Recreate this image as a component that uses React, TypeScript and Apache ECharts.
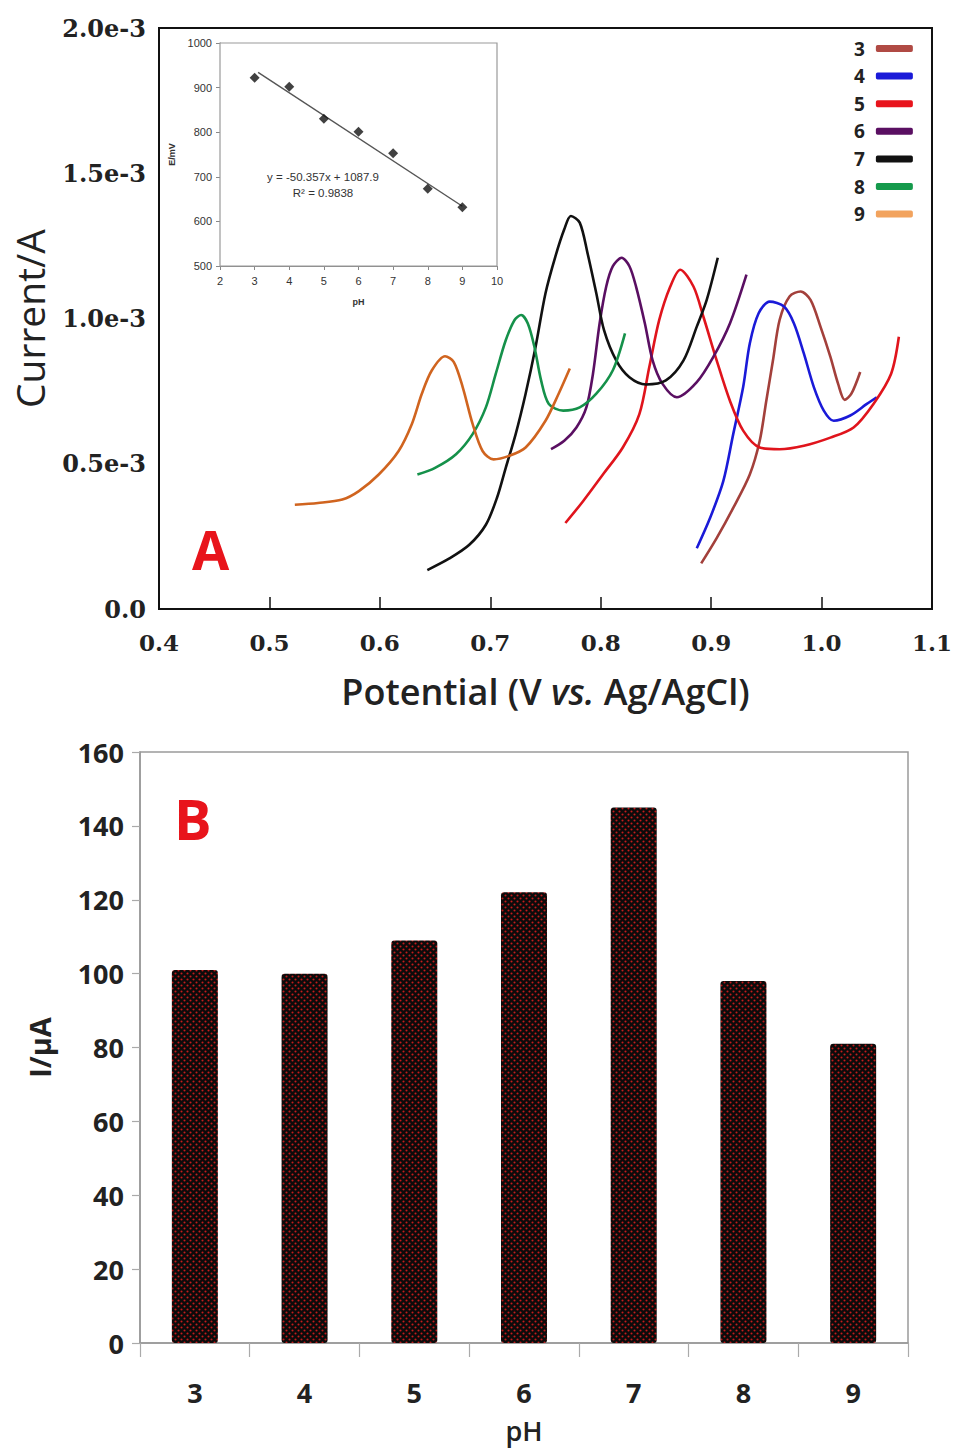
import React, { useEffect, useRef } from "react";
import * as echarts from "echarts";

// ---------- Panel A data: potential (V) vs current (units of 1e-3 A) ----------
const curveNames = ["3", "4", "5", "6", "7", "8", "9"];
const curve3 = [[0.891,0.157],[0.905,0.244],[0.920,0.348],[0.935,0.463],[0.944,0.579],[0.950,0.718],[0.956,0.856],[0.962,0.995],[0.971,1.076],[0.981,1.093],[0.990,1.064],[0.999,0.972],[1.008,0.868],[1.015,0.775],[1.021,0.720],[1.027,0.741],[1.035,0.816]];
const curve4 = [[0.887,0.209],[0.899,0.313],[0.911,0.440],[0.920,0.602],[0.929,0.764],[0.935,0.914],[0.943,1.018],[0.953,1.058],[0.966,1.041],[0.975,0.983],[0.984,0.879],[0.993,0.764],[1.002,0.683],[1.011,0.648],[1.026,0.666],[1.041,0.706],[1.050,0.729]];
const curve5 = [[0.768,0.296],[0.784,0.371],[0.802,0.463],[0.820,0.556],[0.835,0.671],[0.844,0.833],[0.853,0.995],[0.863,1.110],[0.872,1.168],[0.884,1.110],[0.893,1.006],[0.905,0.856],[0.917,0.717],[0.929,0.614],[0.944,0.556],[0.962,0.550],[0.984,0.562],[1.008,0.590],[1.029,0.625],[1.047,0.706],[1.063,0.810],[1.070,0.937]];
const curve6 = [[0.755,0.550],[0.767,0.579],[0.778,0.625],[0.787,0.694],[0.793,0.810],[0.799,0.983],[0.805,1.110],[0.811,1.180],[0.819,1.209],[0.826,1.180],[0.832,1.110],[0.840,0.983],[0.847,0.856],[0.856,0.775],[0.869,0.729],[0.887,0.781],[0.902,0.868],[0.917,0.983],[0.932,1.151]];
const curve7 = [[0.643,0.134],[0.663,0.174],[0.681,0.221],[0.696,0.290],[0.706,0.382],[0.714,0.486],[0.723,0.602],[0.732,0.741],[0.741,0.902],[0.750,1.087],[0.759,1.214],[0.767,1.307],[0.773,1.353],[0.781,1.330],[0.788,1.226],[0.796,1.087],[0.803,0.960],[0.814,0.856],[0.826,0.798],[0.841,0.773],[0.859,0.787],[0.875,0.856],[0.887,0.972],[0.896,1.064],[0.906,1.209]];
const curve8 = [[0.634,0.463],[0.650,0.486],[0.669,0.533],[0.684,0.602],[0.696,0.694],[0.705,0.810],[0.714,0.925],[0.722,0.995],[0.728,1.012],[0.734,0.983],[0.740,0.902],[0.746,0.787],[0.753,0.706],[0.766,0.683],[0.781,0.694],[0.796,0.741],[0.811,0.822],[0.822,0.949]];
const curve9 = [[0.523,0.359],[0.544,0.365],[0.566,0.377],[0.581,0.406],[0.599,0.463],[0.617,0.544],[0.629,0.637],[0.638,0.741],[0.647,0.821],[0.659,0.870],[0.667,0.850],[0.675,0.764],[0.684,0.637],[0.693,0.544],[0.703,0.515],[0.717,0.527],[0.732,0.556],[0.750,0.648],[0.762,0.742],[0.772,0.828]];
const curves = [curve3, curve4, curve5, curve6, curve7, curve8, curve9];
const curveColors = ["#a3403b", "#1a1ad8", "#e0141c", "#5a0f62", "#111111", "#15914a", "#d0641f"];
const legendColors = ["#b04a44", "#1a1ad8", "#e8141c", "#5a0f62", "#111111", "#159a4c", "#f2a35e"];
const potentialTicks = [0.4, 1.1];

// ---------- Inset data: E/mV vs pH ----------
const insetPH = [3, 4, 5, 6, 7, 8, 9];
const insetE = [922, 902, 830, 801, 753, 673, 632];
const trendX = [3.1, 9.0];
const trendY = [934, 634];
const trendText = ["y = -50.357x + 1087.9", "R² = 0.9838"];

// ---------- Panel B data: peak current (µA) vs pH ----------
const barCategories = ["3", "4", "5", "6", "7", "8", "9"];
const barValues = [101, 100, 109, 122, 145, 98, 81];

export default function App() {
  const ref = useRef<HTMLDivElement>(null);
  useEffect(() => {
    if (!ref.current) return;
    const chart = echarts.init(ref.current, null, { renderer: "svg" });

    const tile = document.createElement("canvas");
    tile.width = 6;
    tile.height = 6;
    const ctx = tile.getContext("2d");
    if (ctx) {
      ctx.fillStyle = "#0b0b0b";
      ctx.fillRect(0, 0, 6, 6);
      ctx.fillStyle = "#c41c1c";
      ctx.beginPath(); ctx.arc(1.5, 1.5, 1.05, 0, Math.PI * 2); ctx.fill();
      ctx.beginPath(); ctx.arc(4.5, 4.5, 1.05, 0, Math.PI * 2); ctx.fill();
    }

    const sans = "Open Sans";
    const serif = "DejaVu Serif";
    const small = "Liberation Sans";

    const lineSeries = curves.map((c, i) => ({
      name: curveNames[i],
      type: "line",
      xAxisIndex: 0,
      yAxisIndex: 0,
      data: c,
      smooth: 0.3,
      showSymbol: false,
      symbol: "none",
      itemStyle: { color: legendColors[i] },
      lineStyle: { color: curveColors[i], width: 2.6 },
      z: 3,
    }));

    const option: any = {
      animation: false,
      backgroundColor: "#ffffff",
      grid: [
        { left: 159, top: 28, width: 773, height: 581, show: true, borderColor: "#111", borderWidth: 2, containLabel: false },
        { left: 140, top: 752, width: 768, height: 591, show: true, borderColor: "#9a9a9a", borderWidth: 1.5, containLabel: false },
        { left: 220, top: 43, width: 277, height: 223, show: true, borderColor: "#9a9a9a", borderWidth: 1.2, backgroundColor: "#fff", containLabel: false, z: 5 },
      ],
      xAxis: [
        {
          gridIndex: 0, type: "value", min: potentialTicks[0], max: potentialTicks[1], interval: 0.1,
          axisLine: { show: true, lineStyle: { color: "#111", width: 2 } },
          axisTick: { show: true, inside: true, length: 12, lineStyle: { color: "#111", width: 1.5 } },
          splitLine: { show: false },
          axisLabel: { margin: 22, fontFamily: serif, fontWeight: "bold", fontSize: 23, color: "#222", formatter: (v: number) => v.toFixed(1) },
          name: "{a|Potential (V }{i|vs.}{a| Ag/AgCl)}",
          nameLocation: "middle", nameGap: 64,
          nameTextStyle: {
            rich: {
              a: { fontFamily: sans, fontSize: 36, fontWeight: 600, color: "#222" },
              i: { fontFamily: sans, fontSize: 36, fontWeight: 600, fontStyle: "italic", color: "#222" },
            },
          },
        },
        {
          gridIndex: 1, type: "category", data: barCategories,
          axisLine: { show: true, lineStyle: { color: "#999", width: 1.5 } },
          axisTick: { show: true, length: 14, lineStyle: { color: "#aaa", width: 1.2 } },
          axisLabel: { margin: 36, fontFamily: sans, fontWeight: "bold", fontSize: 27, color: "#222" },
          name: "pH", nameLocation: "middle", nameGap: 74,
          nameTextStyle: { fontFamily: sans, fontWeight: 600, fontSize: 27, color: "#222" },
        },
        {
          gridIndex: 2, type: "value", min: 2, max: 10, interval: 1,
          axisLine: { show: true, lineStyle: { color: "#888", width: 1 } },
          axisTick: { show: true, length: 4, lineStyle: { color: "#888" } },
          splitLine: { show: false },
          axisLabel: { margin: 9, fontFamily: small, fontSize: 11, color: "#333", formatter: (v: number) => String(v) },
          name: "pH", nameLocation: "middle", nameGap: 31,
          nameTextStyle: { fontFamily: small, fontSize: 9, fontWeight: "bold", color: "#333" },
        },
      ],
      yAxis: [
        {
          gridIndex: 0, type: "value", min: 0, max: 2, interval: 0.5,
          axisLine: { show: true, lineStyle: { color: "#111", width: 2 } },
          axisTick: { show: false },
          splitLine: { show: false },
          axisLabel: {
            margin: 13, fontFamily: serif, fontWeight: "bold", fontSize: 24, color: "#222",
            formatter: (v: number) => (v === 0 ? "0.0" : v.toFixed(1) + "e-3"),
          },
          name: "Current/A", nameLocation: "middle", nameGap: 110, nameRotate: 90,
          nameTextStyle: { fontFamily: sans, fontSize: 39, color: "#222" },
        },
        {
          gridIndex: 1, type: "value", min: 0, max: 160, interval: 20,
          axisLine: { show: true, lineStyle: { color: "#999", width: 1.5 } },
          axisTick: { show: true, length: 8, lineStyle: { color: "#aaa", width: 1.2 } },
          splitLine: { show: false },
          axisLabel: { margin: 16, fontFamily: sans, fontWeight: "bold", fontSize: 27, color: "#222" },
          name: "I/μA", nameLocation: "middle", nameGap: 86, nameRotate: 90,
          nameTextStyle: { fontFamily: sans, fontWeight: "bold", fontSize: 29, color: "#222" },
        },
        {
          gridIndex: 2, type: "value", min: 500, max: 1000, interval: 100,
          axisLine: { show: true, lineStyle: { color: "#888", width: 1 } },
          axisTick: { show: true, length: 4, lineStyle: { color: "#888" } },
          splitLine: { show: false },
          axisLabel: { margin: 8, fontFamily: small, fontSize: 11, color: "#333", formatter: (v: number) => String(v) },
          name: "E/mV", nameLocation: "middle", nameGap: 44, nameRotate: 90,
          nameTextStyle: { fontFamily: small, fontSize: 9, fontWeight: "bold", color: "#333" },
        },
      ],
      legend: {
        data: curveNames.map((n, i) => ({ name: n, itemStyle: { color: legendColors[i] } })),
        orient: "vertical",
        left: 849,
        top: 34,
        align: "right",
        icon: "roundRect",
        itemWidth: 37,
        itemHeight: 7,
        itemGap: 8.6,
        textStyle: { fontFamily: sans, fontWeight: "bold", fontSize: 19, color: "#222", lineHeight: 18, padding: [0, 6, 0, 0] },
      },
      graphic: [
        { type: "text", left: 192, top: 522, style: { text: "A", fontFamily: sans, fontWeight: "bold", fontSize: 54, fill: "#e8141b" } },
        { type: "text", left: 174, top: 790, style: { text: "B", fontFamily: sans, fontWeight: "bold", fontSize: 56, fill: "#e8141b" } },
        { type: "text", x: 323, y: 177, style: { text: trendText[0], fontFamily: small, fontSize: 11.5, fill: "#333", align: "center", verticalAlign: "middle" }, z: 10 },
        { type: "text", x: 323, y: 193, style: { text: trendText[1], fontFamily: small, fontSize: 11.5, fill: "#333", align: "center", verticalAlign: "middle" }, z: 10 },
      ],
      series: [
        ...lineSeries,
        {
          name: "trend", type: "line", xAxisIndex: 2, yAxisIndex: 2,
          data: trendX.map((x, i) => [x, trendY[i]]),
          symbol: "none", lineStyle: { color: "#555", width: 1.4 }, z: 6,
        },
        {
          name: "E", type: "scatter", xAxisIndex: 2, yAxisIndex: 2,
          data: insetPH.map((x, i) => [x, insetE[i]]),
          symbol: "diamond", symbolSize: 10, itemStyle: { color: "#111" }, z: 7,
        },
        {
          name: "I", type: "bar", xAxisIndex: 1, yAxisIndex: 1,
          data: barValues, barWidth: 46,
          itemStyle: { color: { image: tile, repeat: "repeat" }, borderRadius: 3 },
        },
      ],
    };
    chart.setOption(option);
    return () => chart.dispose();
  }, []);
  return <div ref={ref} style={{ position: "absolute", left: 0, top: 0, width: 955, height: 1451 }} />;
}
